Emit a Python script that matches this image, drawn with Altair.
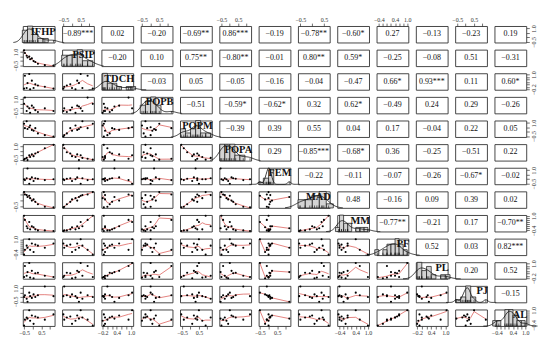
import altair as alt
import pandas as pd

names = ["IFHP", "PSIP", "TDCH", "POPB", "POPM", "POPA", "FEM",
         "MAD", "MM", "PF", "PL", "PJ", "AL"]

IFHP = [-0.5, -0.45, -0.35, -0.3, -0.2, -0.15, -0.05, 0.05, 0.15, 0.3, 0.7, 1.2]
PSIP = [1.2, 0.9, 0.6, 0.4, 0.5, 0.2, 0.3, 0.0, -0.1, -0.3, -0.45, -0.5]
TDCH = [-0.15, 0.9, -0.1, 0.3, 1.05, -0.2, 0.5, -0.1, 0.2, 0.1, 0.0, -0.15]
POPB = [0.5, 1.2, -0.3, 0.2, 0.0, -0.5, 0.3, 0.1, -0.2, -0.4, 0.0, -0.3]
POPM = [0.9, 0.4, 1.2, 0.3, 0.5, 0.7, 0.2, 0.1, 0.4, -0.2, -0.4, -0.55]
POPA = [-0.5, -0.4, -0.3, -0.55, 0.0, -0.2, 0.1, -0.1, 0.2, 0.35, 0.8, 1.2]
FEM = [0.0, -0.1, 0.1, 1.2, -0.5, 0.0, 0.2, -0.2, 0.1, 0.05, -0.1, 0.0]
MAD = [0.7, 0.5, 0.45, 0.3, 0.4, 0.2, 0.0, 0.1, -0.1, -0.3, -0.5, -0.55]
MM = [1.0, 0.6, 0.0, -0.2, 0.4, -0.3, 0.0, -0.1, -0.3, -0.4, -0.4, -0.45]
PF = [-0.45, 0.0, 0.4, 0.2, 1.0, 0.0, 0.6, -0.2, 0.5, 0.4, 0.2, 0.6]
PL = [-0.1, 0.8, 0.0, 0.3, 1.05, -0.15, 0.4, -0.2, 0.2, 0.25, 0.0, -0.1]
PJ = [0.0, 0.2, -0.2, -0.55, 0.5, 0.1, -0.1, 0.3, 0.0, 0.2, 1.2, 0.1]
AL = [-0.45, 0.1, 0.3, 0.2, 1.0, 0.0, 0.5, -0.3, 0.4, 0.3, 0.1, 0.6]

values = {"IFHP": IFHP, "PSIP": PSIP, "TDCH": TDCH, "POPB": POPB, "POPM": POPM,
          "POPA": POPA, "FEM": FEM, "MAD": MAD, "MM": MM, "PF": PF, "PL": PL,
          "PJ": PJ, "AL": AL}

# axis tick style per variable
kind = {"IFHP": "A", "PSIP": "A", "TDCH": "B", "POPB": "A", "POPM": "A", "POPA": "A",
        "FEM": "A", "MAD": "A", "MM": "C", "PF": "C", "PL": "B", "PJ": "A", "AL": "C"}

# upper-triangle correlation labels, row by row
corr_text = [
    "−0.89***", "0.02", "−0.20", "−0.69**", "0.86***", "−0.19", "−0.78**", "−0.60*", "0.27", "−0.13", "−0.23", "0.19",
    "−0.20", "0.10", "0.75**", "−0.80**", "−0.01", "0.80**", "0.59*", "−0.25", "−0.08", "0.51", "−0.31",
    "−0.03", "0.05", "−0.05", "−0.16", "−0.04", "−0.47", "0.66*", "0.93***", "0.11", "0.60*",
    "−0.51", "−0.59*", "−0.62*", "0.32", "0.62*", "−0.49", "0.24", "0.29", "−0.26",
    "−0.39", "0.39", "0.55", "0.04", "0.17", "−0.04", "0.22", "0.05",
    "0.29", "−0.85***", "−0.68*", "0.36", "−0.25", "−0.51", "0.22",
    "−0.22", "−0.11", "−0.07", "−0.26", "−0.67*", "−0.02",
    "0.48", "−0.16", "0.09", "0.39", "0.02",
    "−0.77**", "−0.21", "0.17", "−0.70**",
    "0.52", "0.03", "0.82***",
    "0.20", "0.52",
    "−0.15",
]

TICKS = {"A": [-0.5, 0.0, 0.5, 1.0],
         "B": [-0.2, 0.0, 0.2, 0.4, 0.6, 0.8, 1.0],
         "C": [-0.4, -0.2, 0.0, 0.2, 0.4, 0.6, 0.8, 1.0]}
XLAB = {"A": [-0.5, 0.5], "B": [-0.2, 0.4, 1.0], "C": [-0.4, 0.4, 1.0]}
YLAB = {"A": [-0.5, 1.0], "B": [-0.2, 1.0], "C": [-0.4, 1.0]}
BIN_STEP = {"A": 0.3, "B": 0.2, "C": 0.2}

SERIF = "Liberation Serif"
W, H = 32, 16.6
N = len(IFHP)
NV = len(names)


def domain(v):
    lo, hi = min(values[v]), max(values[v])
    pad = 0.04 * (hi - lo)
    return [lo - pad, hi + pad]


def mid(v):
    d = domain(v)
    return (d[0] + d[1]) / 2


def make_axis(orient, k):
    labs = XLAB[k] if orient in ("top", "bottom") else YLAB[k]
    cond = " || ".join(f"abs(datum.value - ({v})) < 0.001" for v in labs)
    kw = dict(orient=orient, values=TICKS[k],
              labelExpr=f"({cond}) ? format(datum.value, '.1f') : ''",
              labelOverlap=False, labelFlush=False, title=None)
    if orient in ("left", "right"):
        kw["labelAngle"] = 270
    return alt.Axis(**kw)


ctext = {}
kk = 0
for i in range(NV):
    for j in range(i + 1, NV):
        ctext[(i, j)] = corr_text[kk]
        kk += 1

cells = []
for i in range(NV):
    for j in range(NV):
        vi, vj = names[i], names[j]
        xaxis = None
        if i == 0 and j % 2 == 1:
            xaxis = make_axis("top", kind[vj])
        if i == NV - 1 and j % 2 == 0:
            xaxis = make_axis("bottom", kind[vj])
        yaxis = None
        if j == 0 and i % 2 == 1:
            yaxis = make_axis("left", kind[vi])
        if j == NV - 1 and i % 2 == 0:
            yaxis = make_axis("right", kind[vi])
        xs = alt.Scale(domain=domain(vj), nice=False, zero=False)
        ys = alt.Scale(domain=domain(vi), nice=False, zero=False)

        if i > j:
            df = pd.DataFrame({"x": values[vj], "y": values[vi]})
            X = alt.X("x:Q", scale=xs, axis=xaxis, title=None)
            Y = alt.Y("y:Q", scale=ys, axis=yaxis, title=None)
            base = alt.Chart(df).encode(x=X, y=Y)
            smooth = base.transform_loess("x", "y", bandwidth=0.67).mark_line(
                color="#d9534f", strokeWidth=0.8, opacity=0.9)
            pts = base.mark_circle(size=4.5, color="black", opacity=1)
            c = alt.layer(smooth, pts).properties(width=W, height=H)
        elif i < j:
            df = pd.DataFrame({"x": [mid(vj)], "y": [mid(vi)], "t": [ctext[(i, j)]]})
            c = alt.Chart(df).mark_text(font=SERIF, fontSize=8, color="#111").encode(
                x=alt.X("x:Q", scale=xs, axis=xaxis, title=None),
                y=alt.Y("y:Q", scale=ys, axis=yaxis, title=None),
                text="t:N").properties(width=W, height=H)
        else:
            v = vi
            lo, hi = domain(v)
            step = BIN_STEP[kind[v]]
            df = pd.DataFrame({"x": values[v]})
            bars = alt.Chart(df).transform_bin(
                ["b0", "b1"], "x", bin=alt.Bin(step=step)
            ).transform_aggregate(
                cnt="count()", groupby=["b0", "b1"]
            ).transform_calculate(
                dens=f"datum.cnt / ({N} * (datum.b1 - datum.b0))"
            ).mark_bar(fill="#d3d3d3", stroke="#111", strokeWidth=0.7).encode(
                x=alt.X("b0:Q", scale=xs, axis=xaxis, title=None),
                x2="b1:Q",
                y=alt.Y("dens:Q", scale=alt.Scale(zero=True, nice=False), axis=None),
                y2=alt.datum(0),
            )
            dens = alt.Chart(df).transform_density(
                "x", as_=["x", "dens"], extent=[lo - 0.55, hi + 0.55], steps=60
            ).mark_line(color="#111", strokeWidth=0.8).encode(
                x=alt.X("x:Q", scale=xs, axis=xaxis, title=None),
                y=alt.Y("dens:Q", axis=None),
            )
            rug = alt.Chart(df).mark_rule(color="#111", strokeWidth=0.6).encode(
                x=alt.X("x:Q", scale=xs, axis=xaxis, title=None),
                y=alt.value(H), y2=alt.value(H - 2.5),
            )
            lab = alt.Chart(pd.DataFrame({"t": [v]})).mark_text(
                font=SERIF, fontSize=10.5, fontWeight="bold", align="right",
                baseline="top", color="#111"
            ).encode(x=alt.value(W + 1), y=alt.value(0.5), text="t:N")
            inner = alt.layer(bars, dens, rug, lab)
            if yaxis is not None:
                frame = alt.Chart(pd.DataFrame({"y": [mid(v)]})).mark_point(opacity=0).encode(
                    y=alt.Y("y:Q", scale=ys, axis=yaxis, title=None))
                c = alt.layer(inner, frame).resolve_scale(y="independent").properties(width=W, height=H)
            else:
                c = inner.properties(width=W, height=H)
        cells.append(c)

chart = alt.concat(
    *cells, columns=NV, spacing={"row": 6.8, "column": 7.6}, bounds="flush"
).properties(
    padding={"left": 3, "top": 6, "right": 2, "bottom": 0}
).configure_view(
    stroke="#333", strokeWidth=0.9
).configure_axis(
    labelFont=SERIF, labelFontSize=6, labelColor="#333", tickColor="#333",
    tickSize=3, tickWidth=0.7, domain=False, grid=False, labelPadding=1
)

chart.save("out.html", embed_options={"renderer": "svg", "actions": False})
